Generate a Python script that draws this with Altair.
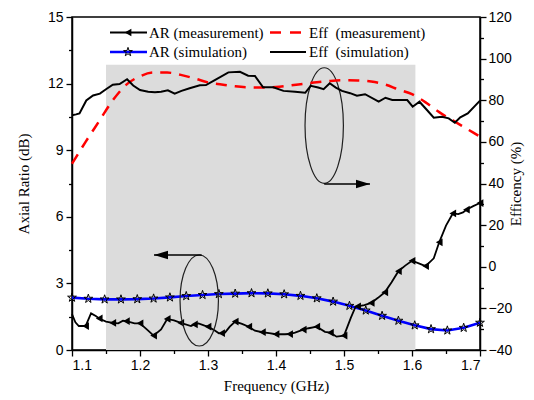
import altair as alt
import pandas as pd

# ---------------- data ----------------
# Efficiency, measurement (red dashed), %
eff_meas_f = [1.10, 1.12, 1.14, 1.16, 1.18, 1.20, 1.22, 1.24, 1.26, 1.28, 1.30, 1.32, 1.34, 1.36, 1.38, 1.40,
              1.42, 1.44, 1.46, 1.48, 1.50, 1.52, 1.54, 1.56, 1.58, 1.60, 1.62, 1.64, 1.66, 1.68, 1.70]
eff_meas_v = [49.5, 60.0, 70.0, 80.0, 87.5, 91.5, 93.3, 93.3, 92.2, 90.5, 88.6, 87.6, 86.7, 86.2, 86.1, 86.4,
              87.1, 87.9, 88.7, 89.3, 89.6, 89.5, 89.0, 87.6, 85.2, 82.9, 79.0, 74.3, 70.3, 66.4, 62.5]

# Efficiency, simulation (black solid), %
eff_sim_f = [1.100, 1.106, 1.111, 1.121, 1.131, 1.141, 1.150, 1.160, 1.170, 1.181, 1.190, 1.200, 1.212, 1.222,
             1.231, 1.241, 1.251, 1.261, 1.273, 1.288, 1.297, 1.310, 1.330, 1.347, 1.359, 1.369, 1.381, 1.396,
             1.411, 1.428, 1.443, 1.451, 1.462, 1.470, 1.479, 1.488, 1.497, 1.509, 1.519, 1.531, 1.551, 1.561,
             1.571, 1.593, 1.601, 1.611, 1.622, 1.632, 1.644, 1.654, 1.663, 1.671, 1.682, 1.700]
eff_sim_v = [72.8, 73.2, 73.7, 79.9, 82.3, 83.2, 85.3, 87.5, 87.8, 90.1, 87.1, 84.9, 84.1, 83.8,
             84.1, 84.8, 83.2, 84.5, 85.8, 87.2, 87.3, 89.7, 93.4, 93.7, 91.8, 91.7, 86.2, 86.2,
             84.5, 84.1, 83.6, 86.9, 86.1, 85.3, 88.2, 86.1, 84.5, 83.4, 82.2, 82.9, 79.3, 81.2,
             80.1, 80.1, 76.9, 79.3, 75.3, 71.6, 72.1, 71.3, 69.2, 71.8, 73.7, 79.8]

# Axial ratio, simulation (blue, star markers), dB
ar_sim_f = [1.100, 1.124, 1.148, 1.172, 1.196, 1.220, 1.244, 1.268, 1.292, 1.316, 1.340, 1.364, 1.388,
            1.412, 1.436, 1.460, 1.484, 1.508, 1.532, 1.556, 1.580, 1.604, 1.628, 1.652, 1.676, 1.700]
ar_sim_v = [2.36, 2.31, 2.28, 2.28, 2.29, 2.32, 2.37, 2.43, 2.48, 2.52, 2.54, 2.56, 2.55,
            2.51, 2.44, 2.33, 2.18, 1.99, 1.78, 1.54, 1.32, 1.11, 0.94, 0.88, 1.00, 1.23]

# Axial ratio, measurement (black, left-triangle markers every 0.02 GHz), dB
ar_meas_f = [1.100, 1.105, 1.110, 1.120, 1.128, 1.135, 1.140, 1.150, 1.160, 1.168, 1.175, 1.180, 1.192,
             1.200, 1.210, 1.220, 1.231, 1.240, 1.250, 1.260, 1.275, 1.280, 1.286, 1.295, 1.300, 1.310,
             1.316, 1.320, 1.325, 1.332, 1.340, 1.350, 1.360, 1.369, 1.380, 1.390, 1.400, 1.413, 1.420,
             1.428, 1.440, 1.448, 1.460, 1.472, 1.480, 1.489, 1.500, 1.510, 1.517, 1.520, 1.530, 1.540,
             1.550, 1.560, 1.570, 1.580, 1.590, 1.600, 1.610, 1.620, 1.632, 1.640, 1.650, 1.660, 1.668,
             1.675, 1.680, 1.690, 1.700]
ar_meas_v = [1.62, 1.25, 1.08, 1.08, 1.65, 1.53, 1.42, 1.28, 1.22, 1.20, 1.32, 1.30, 1.20,
             1.20, 0.93, 0.65, 0.93, 1.40, 1.33, 1.22, 1.08, 1.15, 1.20, 1.10, 1.05, 0.88,
             0.75, 0.76, 0.78, 1.05, 1.28, 1.18, 1.05, 0.87, 0.80, 0.76, 0.71, 0.71, 0.72,
             0.78, 0.92, 0.98, 1.05, 0.82, 0.78, 0.60, 0.65, 1.45, 1.95, 1.97, 2.02, 2.12,
             2.35, 2.60, 3.05, 3.55, 3.80, 4.02, 3.90, 3.78, 4.13, 4.85, 5.60, 6.15, 6.12,
             6.20, 6.32, 6.48, 6.62]

# shaded operating band (GHz) and its top (dB)
band_f = [1.15, 1.605]
band_top = [12.85]

# axis ticks
x_ticks = [1.10, 1.15, 1.20, 1.25, 1.30, 1.35, 1.40, 1.45, 1.50, 1.55, 1.60, 1.65, 1.70]
ar_ticks = [0, 1.5, 3, 4.5, 6, 7.5, 9, 10.5, 12, 13.5, 15]
eff_ticks = [-40, -30, -20, -10, 0, 10, 20, 30, 40, 50, 60, 70, 80, 90, 100, 110, 120]

legend_labels = ["AR (measurement)", "Eff\u00a0 (measurement)", "AR (simulation)", "Eff\u00a0 (simulation)"]

# annotation anchors (in data units)
ellipse_eff = {"f": [1.4709], "ar": [10.11]}
ellipse_ar = {"f": [1.2871], "ar": [2.23]}
arrow_right = {"f1": [1.4709], "f2": [1.5382], "ar": [7.48]}
arrow_left = {"f1": [1.2907], "f2": [1.2206], "ar": [4.28]}

# ---------------- styling ----------------
SANS = "Liberation Sans"
SERIF = "Liberation Serif"
STAR = ("M0,-1 L0.225,-0.309 L0.951,-0.309 L0.363,0.118 L0.588,0.809 L0,0.382 "
        "L-0.588,0.809 L-0.363,0.118 L-0.951,-0.309 L-0.225,-0.309 Z")

common_axis = dict(grid=False, domainColor="black", domainWidth=1.5, tickColor="black", tickWidth=1.3,
                   labelFont=SANS, labelFontSize=14, labelColor="black",
                   titleFont=SERIF, titleFontSize=15, titleFontWeight="normal", titleColor="black")

x_major = "abs(datum.value*10 - round(datum.value*10)) < 0.001"
x_axis = alt.Axis(values=x_ticks, format=".1f", title="Frequency (GHz)",
                  labelExpr=f"{x_major} ? datum.label : ''",
                  tickSize={"condition": {"test": x_major, "value": 6}, "value": 3.5},
                  labelPadding=2, titlePadding=6, **common_axis)

ar_major = "abs(datum.value % 3) < 0.001"
ar_axis = alt.Axis(values=ar_ticks, format="d", title="Axial Ratio (dB)", orient="left",
                   labelExpr=f"{ar_major} ? datum.label : ''",
                   tickSize={"condition": {"test": ar_major, "value": 6}, "value": 3.5},
                   labelPadding=3, titlePadding=16, **common_axis)

eff_major = "abs(datum.value % 20) < 0.001"
eff_axis = alt.Axis(values=eff_ticks, format="d", title="Efficency (%)", orient="right",
                    labelExpr=f"{eff_major} ? datum.label : ''",
                    tickSize={"condition": {"test": eff_major, "value": 6}, "value": 3.5},
                    labelPadding=2, titlePadding=12, titleAngle=270, **common_axis)

x_scale = alt.Scale(domain=[1.1, 1.7], nice=False, zero=False)
ar_scale = alt.Scale(domain=[0, 15], nice=False, zero=False)
eff_scale = alt.Scale(domain=[-40, 120], nice=False, zero=False)


def X(field):
    return alt.X(f"{field}:Q", scale=x_scale, axis=x_axis)


def YAR(field):
    return alt.Y(f"{field}:Q", scale=ar_scale, axis=ar_axis)


def YEFF(field):
    return alt.Y(f"{field}:Q", scale=eff_scale, axis=eff_axis)


def ellipse_path(a):
    k = 0.5523
    ak = a * k
    return (f"M0,-1 C{ak:.3f},-1 {a:.3f},-{k} {a:.3f},0 C{a:.3f},{k} {ak:.3f},1 0,1 "
            f"C{-ak:.3f},1 {-a:.3f},{k} {-a:.3f},0 C{-a:.3f},{-k} {-ak:.3f},-1 0,-1 Z")


# ---------------- AR group (left axis) ----------------
band_df = pd.DataFrame({"f1": [band_f[0]], "f2": [band_f[1]], "y1": [0.0], "y2": band_top})
band = alt.Chart(band_df).mark_rect(color="#dcdcdc").encode(
    x=X("f1"), x2="f2", y=YAR("y1"), y2="y2")

ar_sim_df = pd.DataFrame({"f": ar_sim_f, "v": ar_sim_v})
ar_sim_line = alt.Chart(ar_sim_df).mark_line(color="#0000ff", strokeWidth=2.6).encode(x=X("f"), y=YAR("v"))
ar_sim_pts = alt.Chart(ar_sim_df).mark_point(shape=STAR, size=85, filled=False, stroke="black",
                                            strokeWidth=1, opacity=1).encode(x=X("f"), y=YAR("v"))

ar_meas_df = pd.DataFrame({"f": ar_meas_f, "v": ar_meas_v})
ar_meas_line = alt.Chart(ar_meas_df).mark_line(color="black", strokeWidth=1.8).encode(x=X("f"), y=YAR("v"))
ar_meas_pts = alt.Chart(ar_meas_df).transform_filter(
    "abs(datum.f*50 - round(datum.f*50)) < 0.001 && datum.f > 1.105"
).mark_point(shape="triangle-left", size=60, filled=True, color="black", opacity=1).encode(
    x=X("f"), y=YAR("v"))

ell1 = alt.Chart(pd.DataFrame(ellipse_eff)).mark_point(
    shape=ellipse_path(0.332), size=13363, filled=False, stroke="#202020", strokeWidth=1.2, opacity=1
).encode(x=X("f"), y=YAR("ar"))
ell2 = alt.Chart(pd.DataFrame(ellipse_ar)).mark_point(
    shape=ellipse_path(0.422), size=8281, filled=False, stroke="#202020", strokeWidth=1.2, opacity=1
).encode(x=X("f"), y=YAR("ar"))

arr1_line = alt.Chart(pd.DataFrame(arrow_right)).mark_rule(color="black", strokeWidth=1.5).encode(
    x=X("f1"), x2="f2", y=YAR("ar"))
arr1_head = alt.Chart(pd.DataFrame(arrow_right)).mark_point(
    shape="M0,0 L-2,-0.6 L-2,0.6 Z", size=196, filled=True, color="black", opacity=1
).encode(x=X("f2"), y=YAR("ar"))
arr2_line = alt.Chart(pd.DataFrame(arrow_left)).mark_rule(color="black", strokeWidth=1.5).encode(
    x=X("f1"), x2="f2", y=YAR("ar"))
arr2_head = alt.Chart(pd.DataFrame(arrow_left)).mark_point(
    shape="M0,0 L2,-0.6 L2,0.6 Z", size=196, filled=True, color="black", opacity=1
).encode(x=X("f2"), y=YAR("ar"))

ar_group = alt.layer(band, ar_sim_line, ar_sim_pts, ar_meas_line, ar_meas_pts,
                     ell1, ell2, arr1_line, arr1_head, arr2_line, arr2_head)

# ---------------- Efficiency group (right axis) ----------------
eff_meas_df = pd.DataFrame({"f": eff_meas_f, "v": eff_meas_v})
eff_meas_line = alt.Chart(eff_meas_df).mark_line(
    color="#ff0000", strokeWidth=2.5, strokeDash=[11, 8], interpolate="monotone"
).encode(x=X("f"), y=YEFF("v"))
eff_sim_df = pd.DataFrame({"f": eff_sim_f, "v": eff_sim_v})
eff_sim_line = alt.Chart(eff_sim_df).mark_line(color="black", strokeWidth=2).encode(x=X("f"), y=YEFF("v"))

eff_group = alt.layer(eff_meas_line, eff_sim_line)

# ---------------- legend (drawn in pixel space of the plot area) ----------------
COL0_LINE = (38, 75)
COL1_LINE = (198, 234)
COL0_TEXT = 77
COL1_TEXT = 237
ROW_Y = (15.5, 35)
one = pd.DataFrame({"k": [0]})

legend_layers = []
specs = [
    (legend_labels[0], COL0_LINE, COL0_TEXT, ROW_Y[0], "black", None, 1.8),
    (legend_labels[1], COL1_LINE, COL1_TEXT, ROW_Y[0], "#ff0000", [11, 9], 2.5),
    (legend_labels[2], COL0_LINE, COL0_TEXT, ROW_Y[1], "#0000ff", None, 2.6),
    (legend_labels[3], COL1_LINE, COL1_TEXT, ROW_Y[1], "black", None, 2),
]
for lab, (lx1, lx2), tx, yy, col, dash, sw in specs:
    rule_kw = dict(color=col, strokeWidth=sw)
    if dash is not None:
        rule_kw["strokeDash"] = dash
    legend_layers.append(alt.Chart(one).mark_rule(**rule_kw).encode(
        x=alt.value(lx1), x2=alt.value(lx2), y=alt.value(yy)))
    legend_layers.append(alt.Chart(pd.DataFrame({"label": [lab]})).mark_text(
        align="left", baseline="middle", font=SERIF, fontSize=15, color="black"
    ).encode(x=alt.value(tx), y=alt.value(yy), text="label:N"))

legend_layers.append(alt.Chart(one).mark_point(
    shape="triangle-left", size=60, filled=True, color="black", opacity=1
).encode(x=alt.value(56), y=alt.value(ROW_Y[0])))
legend_layers.append(alt.Chart(one).mark_point(
    shape=STAR, size=85, filled=False, stroke="black", strokeWidth=1, opacity=1
).encode(x=alt.value(56), y=alt.value(ROW_Y[1])))

chart = alt.layer(ar_group, eff_group, *legend_layers).resolve_scale(
    y="independent"
).properties(
    width=408, height=333, autosize="none",
    padding={"left": 72, "top": 17, "right": 54, "bottom": 50},
    background="white",
).configure_view(stroke="black", strokeWidth=1.5)

chart.save("out.html", embed_options={"renderer": "svg", "actions": False})
